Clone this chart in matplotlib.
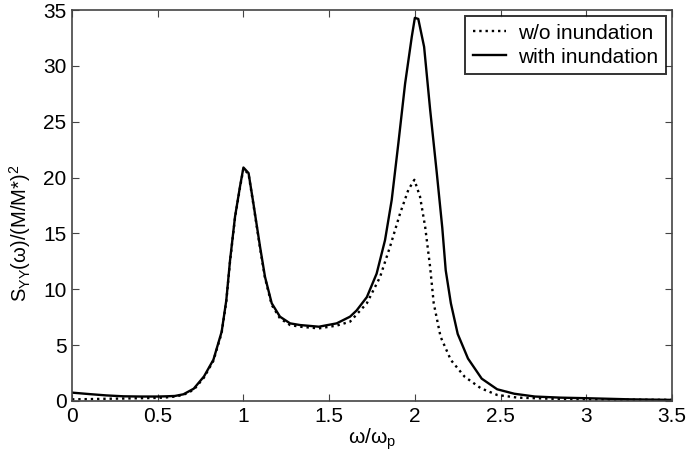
import matplotlib
matplotlib.use("Agg")
import matplotlib.pyplot as plt

# with inundation (solid)
x_with = [0.0, 0.1, 0.2, 0.3, 0.4, 0.5, 0.55, 0.6, 0.65, 0.71, 0.77, 0.825, 0.873,
          0.90, 0.922, 0.951, 0.98, 1.0, 1.03, 1.058, 1.097, 1.126, 1.165, 1.213,
          1.272, 1.33, 1.44, 1.544, 1.622, 1.66, 1.72, 1.777, 1.826, 1.865, 1.904,
          1.943, 1.982, 2.0, 2.02, 2.054, 2.089, 2.128, 2.16, 2.18, 2.21, 2.25,
          2.31, 2.39, 2.48, 2.58, 2.7, 2.85, 3.0, 3.25, 3.5]
y_with = [0.75, 0.62, 0.5, 0.42, 0.4, 0.4, 0.42, 0.45, 0.6, 1.1, 2.2, 3.7, 6.2,
          9.0, 12.6, 16.5, 19.2, 20.9, 20.4, 17.7, 13.8, 11.1, 8.75, 7.55,
          6.95, 6.8, 6.65, 6.95, 7.55, 8.1, 9.3, 11.4, 14.4, 18.0, 23.1,
          28.4, 32.6, 34.3, 34.2, 31.7, 26.1, 20.4, 15.5, 11.7, 8.75, 6.0,
          3.8, 2.0, 1.05, 0.65, 0.4, 0.3, 0.25, 0.15, 0.1]

# without inundation (dotted)
x_wo = [0.0, 0.1, 0.2, 0.3, 0.4, 0.5, 0.55, 0.6, 0.65, 0.71, 0.77, 0.825, 0.873,
        0.90, 0.922, 0.951, 0.98, 1.0, 1.03, 1.058, 1.097, 1.126, 1.165, 1.213,
        1.272, 1.33, 1.44, 1.544, 1.622, 1.72, 1.797, 1.855, 1.914, 1.962, 1.997,
        2.03, 2.06, 2.089, 2.11, 2.15, 2.21, 2.29, 2.385, 2.48, 2.6, 2.8, 3.0,
        3.25, 3.5]
y_wo = [0.15, 0.17, 0.2, 0.22, 0.25, 0.28, 0.32, 0.4, 0.55, 1.0, 2.1, 3.6, 6.1,
        8.9, 12.5, 16.4, 19.1, 20.8, 20.3, 17.6, 13.7, 11.0, 8.6, 7.4,
        6.8, 6.65, 6.5, 6.75, 7.1, 8.75, 11.1, 13.8, 16.8, 18.9, 19.8,
        18.3, 15.6, 12.0, 8.75, 5.75, 3.67, 2.18, 1.14, 0.54, 0.3, 0.2, 0.15,
        0.12, 0.1]

x_ticks = [0, 0.5, 1, 1.5, 2, 2.5, 3, 3.5]
x_ticklabels = ["0", "0.5", "1", "1.5", "2", "2.5", "3", "3.5"]
y_ticks = [0, 5, 10, 15, 20, 25, 30, 35]

plt.rcParams['font.family'] = ['Liberation Sans', 'DejaVu Sans']
plt.rcParams['mathtext.fontset'] = 'custom'
plt.rcParams['mathtext.rm'] = 'Liberation Sans'
plt.rcParams['mathtext.it'] = 'Liberation Sans:italic'

fig = plt.figure(figsize=(6.87, 4.57), dpi=100)
ax = fig.add_axes([72/687, 56/457, 600/687, 391/457])

ax.plot(x_wo, y_wo, color='black', linestyle=':', linewidth=1.7, label='w/o inundation')
ax.plot(x_with, y_with, color='black', linestyle='-', linewidth=1.7, label='with inundation')

ax.set_xlim(0, 3.5)
ax.set_ylim(0, 35)
ax.set_xticks(x_ticks)
ax.set_xticklabels(x_ticklabels)
ax.set_yticks(y_ticks)
ax.tick_params(direction='in', top=True, right=True, labelsize=15, length=5,
               width=0.8, color='#444444', pad=4)
for s in ax.spines.values():
    s.set_linewidth(1.2)
    s.set_color('#444444')

ax.set_xlabel(r'ω/ω$_\mathrm{p}$', fontsize=15, labelpad=1)
ax.set_ylabel(r'S$_\mathrm{YY}$(ω)/(M/M*)$^\mathrm{2}$', fontsize=14.5)
ax.yaxis.set_label_coords(-0.065, 0.43)

leg = ax.legend(loc='upper right', fontsize=15, frameon=True, fancybox=False,
                handlelength=1.6, handletextpad=0.6, borderpad=0.35,
                labelspacing=0.25, borderaxespad=0.3)
leg.get_frame().set_edgecolor('black')
leg.get_frame().set_linewidth(1.4)

fig.savefig('out.png', dpi=100)
